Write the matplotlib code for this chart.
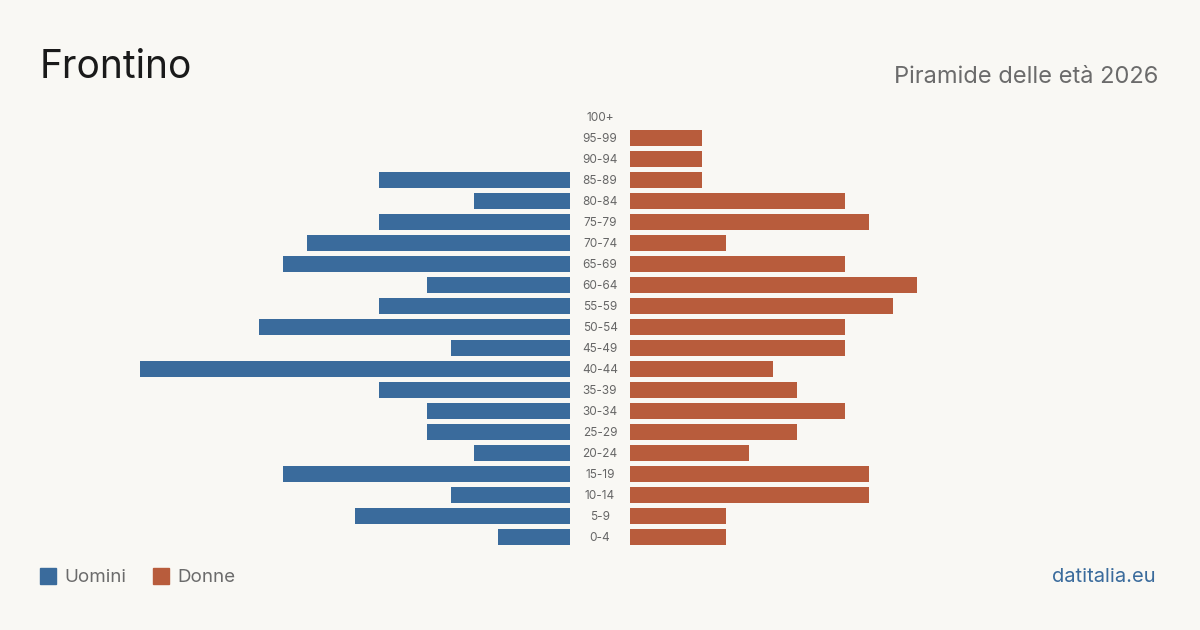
import matplotlib.pyplot as plt
from matplotlib.patches import Rectangle

plt.rcParams["font.family"] = ["Inter", "DejaVu Sans"]

age_groups = ["0-4", "5-9", "10-14", "15-19", "20-24", "25-29", "30-34",
              "35-39", "40-44", "45-49", "50-54", "55-59", "60-64", "65-69",
              "70-74", "75-79", "80-84", "85-89", "90-94", "95-99", "100+"]
men = [3, 9, 5, 12, 4, 6, 6, 8, 18, 5, 13, 8, 6, 12, 11, 8, 4, 8, 0, 0, 0]
women = [4, 4, 10, 10, 5, 7, 9, 7, 6, 9, 9, 11, 12, 9, 4, 10, 9, 3, 3, 3, 0]

bg = "#f9f8f4"
blue = "#3a6b9c"
red = "#b85c3c"

W, H = 1200, 630
fig = plt.figure(figsize=(12, 6.3), dpi=100, facecolor=bg)

# pixel layout: rows 0-4 at y=537 ... 100+ at y=117, 21 px step
top = 117 - 10.5
bottom = 537 + 10.5
ax_l = fig.add_axes([140 / W, 1 - bottom / H, 430 / W, (bottom - top) / H])
ax_r = fig.add_axes([630 / W, 1 - bottom / H, 430 / W, (bottom - top) / H])

y = list(range(len(age_groups)))
ax_l.barh(y, men, height=0.8, color=blue)
ax_r.barh(y, women, height=0.8, color=red)
ax_l.set_xlim(18, 0)
ax_r.set_xlim(0, 18)
for ax in (ax_l, ax_r):
    ax.set_ylim(-0.5, len(age_groups) - 0.5)
    ax.axis("off")
    ax.set_facecolor("none")

for i, lab in enumerate(age_groups):
    ax_r.annotate(lab, xy=(0, i), xycoords="data", xytext=(-30, -1),
                  textcoords="offset pixels", ha="center", va="center",
                  fontsize=8.5, color="#666666")

fig.text(40 / W, 1 - 68 / H, "Frontino", fontsize=28, color="#1a1a1a",
         ha="left", va="center")
fig.text(1158 / W, 1 - 77 / H, "Piramide delle età 2026", fontsize=17,
         color="#6b6b6b", ha="right", va="center")

# legend
fig.patches.append(Rectangle((40 / W, 1 - 584 / H), 16 / W, 16 / H,
                             transform=fig.transFigure, color=blue))
fig.text(64 / W, 1 - 577 / H, "Uomini", fontsize=13.5, color="#6b6b6b",
         ha="left", va="center")
fig.patches.append(Rectangle((153 / W, 1 - 584 / H), 16 / W, 16 / H,
                             transform=fig.transFigure, color=red))
fig.text(177 / W, 1 - 577 / H, "Donne", fontsize=13.5, color="#6b6b6b",
         ha="left", va="center")

fig.text(1156 / W, 1 - 577 / H, "datitalia.eu", fontsize=14.5, color=blue,
         ha="right", va="center")

fig.savefig("out.png", dpi=100, facecolor=bg)
